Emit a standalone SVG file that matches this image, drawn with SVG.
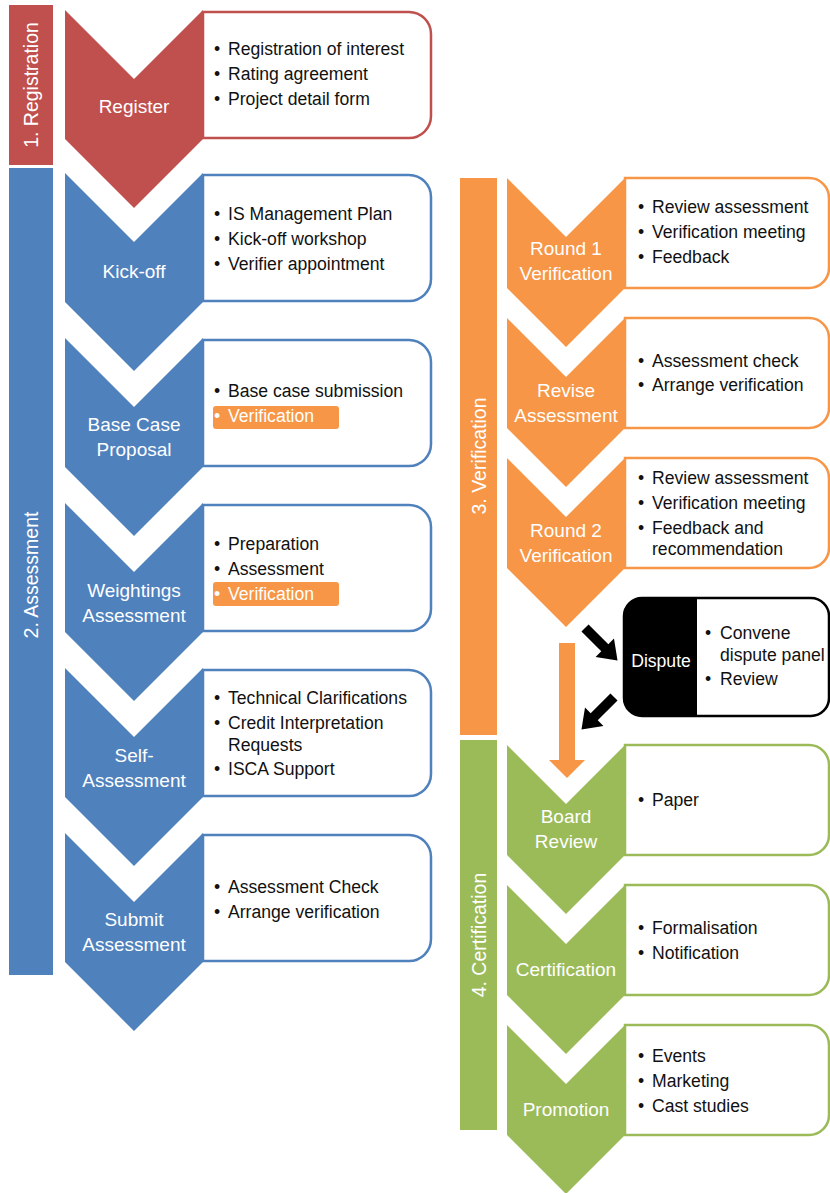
<svg xmlns="http://www.w3.org/2000/svg" width="830" height="1193" viewBox="0 0 830 1193">
<style>
text{font-family:"Liberation Sans",Arial,sans-serif}
.lbl{fill:#fff;font-size:19px;text-anchor:middle}
.stg{fill:#fff;font-size:19.5px;text-anchor:middle}
.t{fill:#111;font-size:17.6px}
.tw{fill:#fff;font-size:17.6px}
.red{fill:#C0504D;stroke:#C0504D}
.blue{fill:#4F81BD;stroke:#4F81BD}
.org{fill:#F79646;stroke:#F79646}
.grn{fill:#9BBB59;stroke:#9BBB59}
.bxred{fill:#fff;stroke:#C0504D;stroke-width:2.5}
.bxblue{fill:#fff;stroke:#4F81BD;stroke-width:2.5}
.bxorg{fill:#fff;stroke:#F79646;stroke-width:2.5}
.bxgrn{fill:#fff;stroke:#9BBB59;stroke-width:2.5}
.hl{fill:#F79646}
</style>
<defs>
<path id="chevL" d="M65,0 L134,69 L203,0 L203,129 L134,198 L65,129 Z" stroke="none"/>
<path id="chevR" d="M507,0 L566,59 L625,0 L625,110 L566,169 L507,110 Z" stroke="none"/>
<path id="boxL" d="M203,2 H409 A22,22 0 0 1 431,24 V106 A22,22 0 0 1 409,128 H203 Z"/>
<path id="boxR" d="M625,0 H809 A20,20 0 0 1 829,20 V90 A20,20 0 0 1 809,110 H625 Z"/>
</defs>

<g id="stages">
<rect x="9" y="5" width="44" height="160" fill="#C0504D"/>
<text class="stg" x="31" y="85" dy="0.35em" transform="rotate(-90 31 85)">1. Registration</text>
<rect x="9" y="168" width="44" height="807" fill="#4F81BD"/>
<text class="stg" x="31" y="575" dy="0.35em" transform="rotate(-90 31 575)">2. Assessment</text>
<rect x="460" y="178" width="37" height="557" fill="#F79646"/>
<text class="stg" x="479" y="456" dy="0.35em" transform="rotate(-90 479 456)">3. Verification</text>
<rect x="460" y="740" width="37" height="390" fill="#9BBB59"/>
<text class="stg" x="479" y="935" dy="0.35em" transform="rotate(-90 479 935)">4. Certification</text>
</g>

<g id="register">
<use href="#boxL" class="bxred" transform="translate(0,10)"/>
<use href="#chevL" class="red" transform="translate(0,10)"/>
<text class="lbl" x="134" y="113">Register</text>
<text class="t" x="214" y="55">•</text><text class="t" x="228" y="55">Registration of interest</text>
<text class="t" x="214" y="80">•</text><text class="t" x="228" y="80">Rating agreement</text>
<text class="t" x="214" y="105">•</text><text class="t" x="228" y="105">Project detail form</text>
</g>

<g id="kickoff">
<use href="#boxL" class="bxblue" transform="translate(0,173)"/>
<use href="#chevL" class="blue" transform="translate(0,173)"/>
<text class="lbl" x="134" y="278">Kick-off</text>
<text class="t" x="214" y="220">•</text><text class="t" x="228" y="220">IS Management Plan</text>
<text class="t" x="214" y="245">•</text><text class="t" x="228" y="245">Kick-off workshop</text>
<text class="t" x="214" y="270">•</text><text class="t" x="228" y="270">Verifier appointment</text>
</g>

<g id="basecase">
<use href="#boxL" class="bxblue" transform="translate(0,338)"/>
<use href="#chevL" class="blue" transform="translate(0,338)"/>
<text class="lbl" x="134" y="431">Base Case</text>
<text class="lbl" x="134" y="456">Proposal</text>
<text class="t" x="214" y="397">•</text><text class="t" x="228" y="397">Base case submission</text>
<rect class="hl" x="213" y="406" width="126" height="23" rx="3"/>
<text class="tw" x="214" y="422">•</text><text class="tw" x="228" y="422">Verification</text>
</g>

<g id="weightings">
<use href="#boxL" class="bxblue" transform="translate(0,503)"/>
<use href="#chevL" class="blue" transform="translate(0,503)"/>
<text class="lbl" x="134" y="597">Weightings</text>
<text class="lbl" x="134" y="622">Assessment</text>
<text class="t" x="214" y="550">•</text><text class="t" x="228" y="550">Preparation</text>
<text class="t" x="214" y="575">•</text><text class="t" x="228" y="575">Assessment</text>
<rect class="hl" x="213" y="582" width="126" height="24" rx="3"/>
<text class="tw" x="214" y="600">•</text><text class="tw" x="228" y="600">Verification</text>
</g>

<g id="selfassessment">
<use href="#boxL" class="bxblue" transform="translate(0,668)"/>
<use href="#chevL" class="blue" transform="translate(0,668)"/>
<text class="lbl" x="134" y="762">Self-</text>
<text class="lbl" x="134" y="787">Assessment</text>
<text class="t" x="214" y="704">•</text><text class="t" x="228" y="704">Technical Clarifications</text>
<text class="t" x="214" y="729">•</text><text class="t" x="228" y="729">Credit Interpretation</text>
<text class="t" x="228" y="751">Requests</text>
<text class="t" x="214" y="775">•</text><text class="t" x="228" y="775">ISCA Support</text>
</g>

<g id="submit">
<use href="#boxL" class="bxblue" transform="translate(0,833)"/>
<use href="#chevL" class="blue" transform="translate(0,833)"/>
<text class="lbl" x="134" y="926">Submit</text>
<text class="lbl" x="134" y="951">Assessment</text>
<text class="t" x="214" y="893">•</text><text class="t" x="228" y="893">Assessment Check</text>
<text class="t" x="214" y="918">•</text><text class="t" x="228" y="918">Arrange verification</text>
</g>

<g id="round1">
<use href="#boxR" class="bxorg" transform="translate(0,178)"/>
<use href="#chevR" class="org" transform="translate(0,178)"/>
<text class="lbl" x="566" y="255">Round 1</text>
<text class="lbl" x="566" y="280">Verification</text>
<text class="t" x="638" y="213">•</text><text class="t" x="652" y="213">Review assessment</text>
<text class="t" x="638" y="238">•</text><text class="t" x="652" y="238">Verification meeting</text>
<text class="t" x="638" y="263">•</text><text class="t" x="652" y="263">Feedback</text>
</g>

<g id="revise">
<use href="#boxR" class="bxorg" transform="translate(0,318)"/>
<use href="#chevR" class="org" transform="translate(0,318)"/>
<text class="lbl" x="566" y="397">Revise</text>
<text class="lbl" x="566" y="422">Assessment</text>
<text class="t" x="638" y="367">•</text><text class="t" x="652" y="367">Assessment check</text>
<text class="t" x="638" y="391">•</text><text class="t" x="652" y="391">Arrange verification</text>
</g>

<g id="round2">
<use href="#boxR" class="bxorg" transform="translate(0,458)"/>
<use href="#chevR" class="org" transform="translate(0,458)"/>
<text class="lbl" x="566" y="537">Round 2</text>
<text class="lbl" x="566" y="562">Verification</text>
<text class="t" x="638" y="484">•</text><text class="t" x="652" y="484">Review assessment</text>
<text class="t" x="638" y="509">•</text><text class="t" x="652" y="509">Verification meeting</text>
<text class="t" x="638" y="534">•</text><text class="t" x="652" y="534">Feedback and</text>
<text class="t" x="652" y="555">recommendation</text>
</g>

<g id="dispute">
<path d="M642,598 H811 A18,18 0 0 1 829,616 V698 A18,18 0 0 1 811,716 H642 A18,18 0 0 1 624,698 V616 A18,18 0 0 1 642,598 Z" fill="#fff" stroke="#000" stroke-width="2.5"/>
<path d="M642,598 H697 V716 H642 A18,18 0 0 1 624,698 V616 A18,18 0 0 1 642,598 Z" fill="#000"/>
<text class="tw" x="661" y="667" text-anchor="middle">Dispute</text>
<text class="t" x="705" y="639">•</text><text class="t" x="720" y="639">Convene</text>
<text class="t" x="720" y="661">dispute panel</text>
<text class="t" x="705" y="685">•</text><text class="t" x="720" y="685">Review</text>
</g>

<g id="boardreview">
<use href="#boxR" class="bxgrn" transform="translate(0,745)"/>
<use href="#chevR" class="grn" transform="translate(0,745)"/>
<text class="lbl" x="566" y="823">Board</text>
<text class="lbl" x="566" y="848">Review</text>
<text class="t" x="638" y="806">•</text><text class="t" x="652" y="806">Paper</text>
</g>

<g id="certification">
<use href="#boxR" class="bxgrn" transform="translate(0,885)"/>
<use href="#chevR" class="grn" transform="translate(0,885)"/>
<text class="lbl" x="566" y="976">Certification</text>
<text class="t" x="638" y="934">•</text><text class="t" x="652" y="934">Formalisation</text>
<text class="t" x="638" y="959">•</text><text class="t" x="652" y="959">Notification</text>
</g>

<g id="promotion">
<use href="#boxR" class="bxgrn" transform="translate(0,1025)"/>
<use href="#chevR" class="grn" transform="translate(0,1025)"/>
<text class="lbl" x="566" y="1116">Promotion</text>
<text class="t" x="638" y="1062">•</text><text class="t" x="652" y="1062">Events</text>
<text class="t" x="638" y="1087">•</text><text class="t" x="652" y="1087">Marketing</text>
<text class="t" x="638" y="1112">•</text><text class="t" x="652" y="1112">Cast studies</text>
</g>

<g id="connectors">
<polygon points="0,-5 28,-5 28,-13 46,0 28,13 28,5 0,5" fill="#000" transform="translate(585,628) rotate(45)"/>
<polygon points="0,-5 28,-5 28,-13 46,0 28,13 28,5 0,5" fill="#000" transform="translate(614,697) rotate(135)"/>
<polygon points="559,643 575,643 575,760 585,760 567,778 549,760 559,760" fill="#F79646"/>
</g>
</svg>
